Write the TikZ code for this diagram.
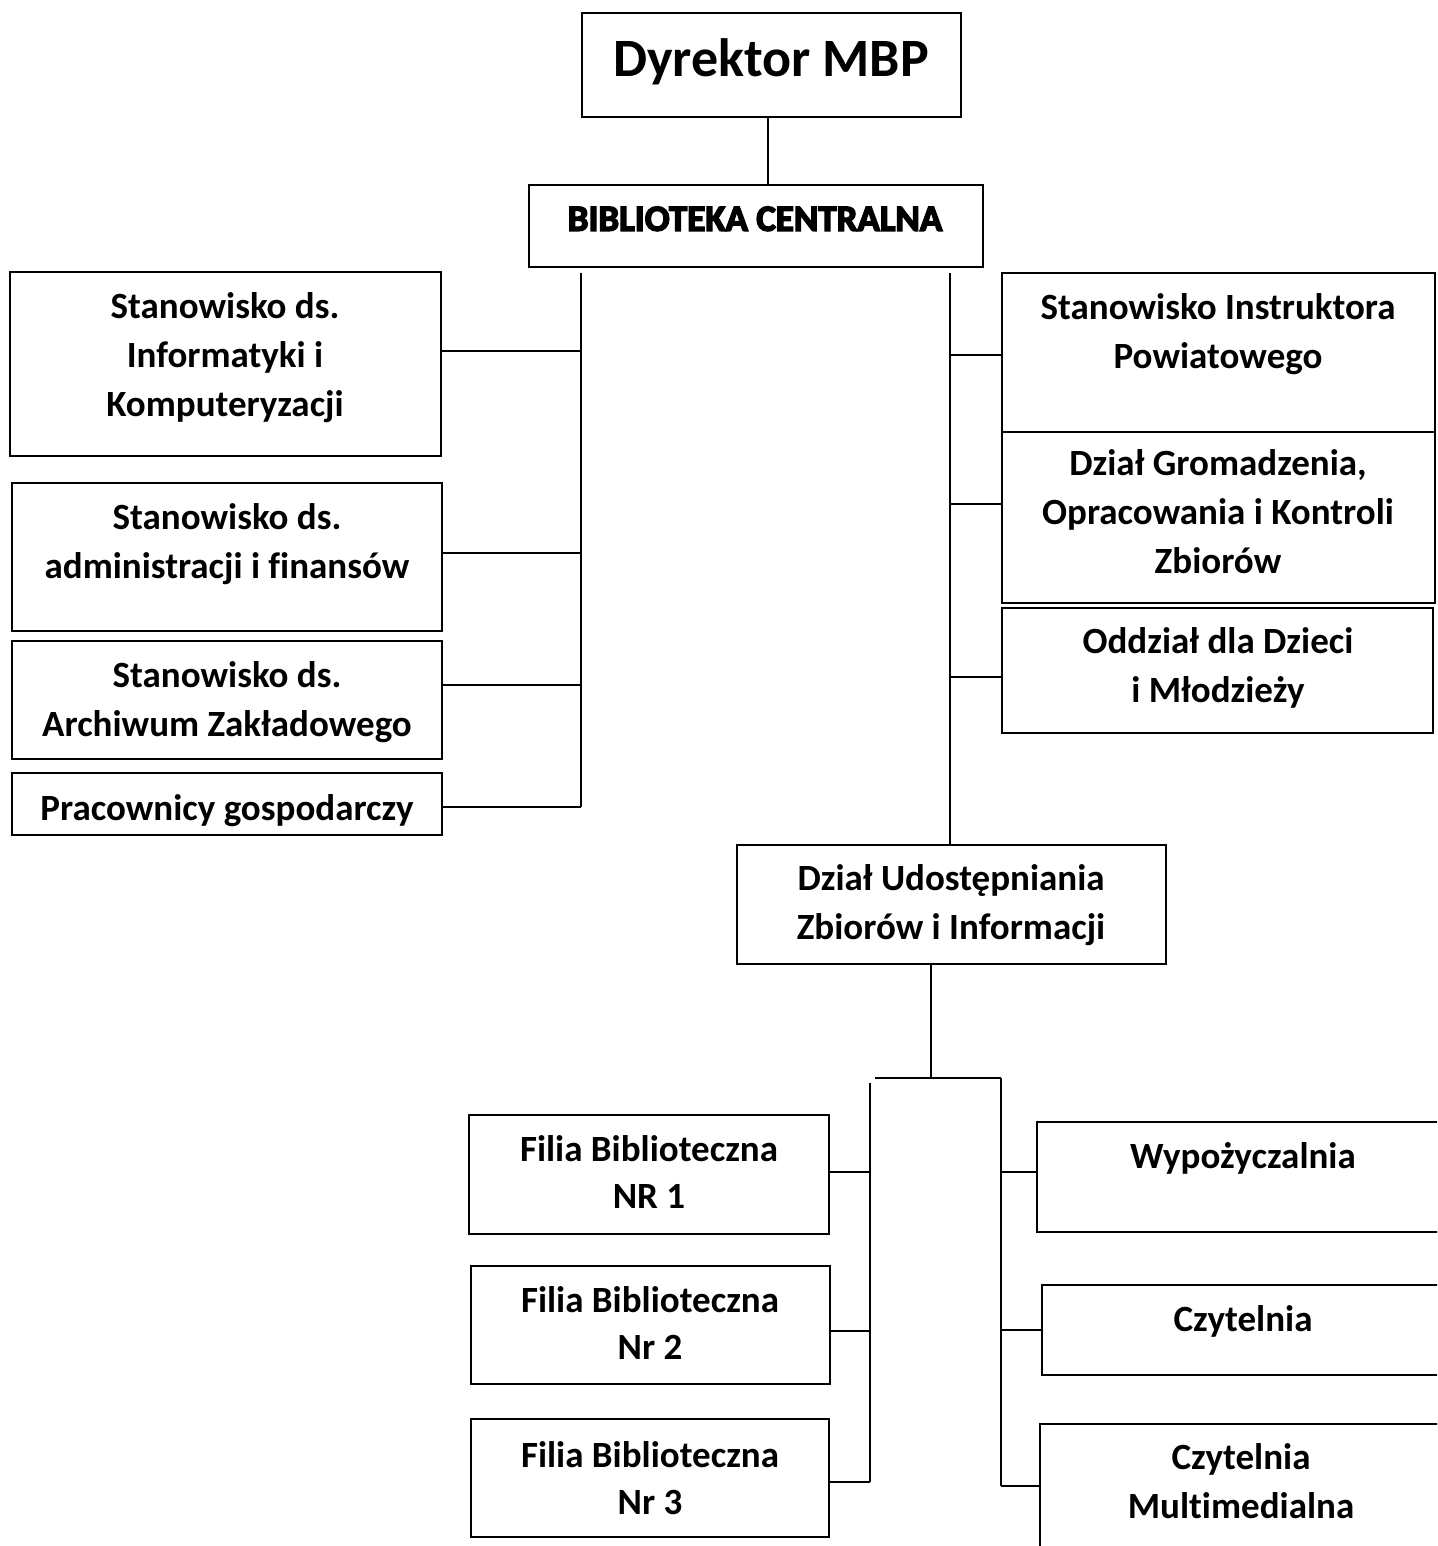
\documentclass[tikz,border=0pt]{standalone}
\usepackage{fontspec}
\setmainfont{Carlito}[Ligatures=CommonOff]
\newfontfamily\heavyfont{Carlito}[Ligatures=CommonOff, BoldFeatures={FakeBold=4}]
\usetikzlibrary{calc}
\tikzset{
  box/.style={draw=black, line width=1.8pt, rectangle, inner sep=0pt, outer sep=0pt},
  conn/.style={draw=black, line width=1.5pt},
  txt/.style={align=center, inner sep=0pt, font=\fontsize{37}{49}\selectfont\bfseries,
    execute at begin node=\strut, execute at end node=\strut},
}
\newcommand\orgbox[5]{\node[box, anchor=north west, minimum width={#4-#2}, minimum height={#5-#3}] (#1) at (#2,#3) {};}
\begin{document}
\begin{tikzpicture}[x=1pt,y=-1pt]
\useasboundingbox (0,0) rectangle (1437,1546);
\fill[white] (0,0) rectangle (1437,1546);
\begin{scope}
\clip (0,0) rectangle (1437,1546);
% boxes
\orgbox{dyr}{582}{13}{961}{117}
\orgbox{bc}{529}{185}{983}{267}
\orgbox{l1}{10}{272}{441}{456}
\orgbox{l2}{12}{483}{442}{631}
\orgbox{l3}{12}{641}{442}{759}
\orgbox{l4}{12}{773}{442}{835}
\orgbox{r1}{1002}{273}{1435}{432}
\orgbox{r2}{1002}{432}{1435}{603}
\orgbox{r3}{1002}{608}{1433}{733}
\orgbox{udo}{737}{845}{1166}{964}
\orgbox{f1}{469}{1115}{829}{1234}
\orgbox{f2}{471}{1266}{830}{1384}
\orgbox{f3}{471}{1419}{829}{1537}
\orgbox{wy}{1037}{1122}{1452}{1232}
\orgbox{cz}{1042}{1285}{1452}{1375}
\orgbox{cm}{1040}{1424}{1452}{1600}
% texts
\node[txt, font=\fontsize{54}{53}\selectfont\bfseries] (t-dyr) at (771,66) {Dyrektor MBP};
\node[txt, font=\fontsize{37}{49}\selectfont\heavyfont\bfseries] (t-bc) at (755,221) {BIBLIOTEKA CENTRALNA};
\node[txt] (t-l1) at (225,362) {Stanowisko ds.\\Informatyki i\\Komputeryzacji};
\node[txt] (t-l2) at (227,548) {Stanowisko ds.\\administracji i finansów};
\node[txt] (t-l3) at (227,706) {Stanowisko ds.\\Archiwum Zakładowego};
\node[txt] (t-l4) at (227,811) {Pracownicy gospodarczy};
\node[txt] (t-r1) at (1218,338) {Stanowisko Instruktora\\Powiatowego};
\node[txt] (t-r2) at (1218,519) {Dział Gromadzenia,\\Opracowania i Kontroli\\Zbiorów};
\node[txt] (t-r3) at (1218,672) {Oddział dla Dzieci\\i Młodzieży};
\node[txt] (t-udo) at (951,909) {Dział Udostępniania\\Zbiorów i Informacji};
\node[txt, font=\fontsize{37}{47}\selectfont\bfseries] (t-f1) at (649,1179) {Filia Biblioteczna\\NR 1};
\node[txt, font=\fontsize{37}{47}\selectfont\bfseries] (t-f2) at (650,1330) {Filia Biblioteczna\\Nr 2};
\node[txt, font=\fontsize{37}{47}\selectfont\bfseries] (t-f3) at (650,1485) {Filia Biblioteczna\\Nr 3};
\node[txt] (t-wy) at (1243,1159) {Wypożyczalnia};
\node[txt] (t-cz) at (1243,1322) {Czytelnia};
\node[txt] (t-cm) at (1241,1488) {Czytelnia\\Multimedialna};
% connectors
\draw[conn] (dyr.south -| 768,0) -- (bc.north -| 768,0);
\coordinate (lt) at (581,273);
\coordinate (lj1) at (581,351);
\coordinate (lj2) at (581,553);
\coordinate (lj3) at (581,685);
\coordinate (lj4) at (581,807);
\draw[conn] (lt) -- (lj4);
\draw[conn] (lj1) -- (lj1 -| l1.east);
\draw[conn] (lj2) -- (lj2 -| l2.east);
\draw[conn] (lj3) -- (lj3 -| l3.east);
\draw[conn] (lj4) -- (lj4 -| l4.east);
\coordinate (rt) at (950,273);
\coordinate (rj1) at (950,355);
\coordinate (rj2) at (950,504);
\coordinate (rj3) at (950,677);
\draw[conn] (rt) -- (udo.north -| rt);
\draw[conn] (rj1) -- (rj1 -| r1.west);
\draw[conn] (rj2) -- (rj2 -| r2.west);
\draw[conn] (rj3) -- (rj3 -| r3.west);
\coordinate (ub) at (931,1078);
\coordinate (hl) at (875,1078);
\coordinate (hr) at (1001,1078);
\draw[conn] (udo.south -| ub) -- (ub);
\draw[conn] (hl) -- (hr);
\coordinate (vl) at (870,1083);
\coordinate (fj1) at (870,1172);
\coordinate (fj2) at (870,1331);
\coordinate (fj3) at (870,1482);
\draw[conn] (vl) -- (fj3);
\draw[conn] (fj1) -- (fj1 -| f1.east);
\draw[conn] (fj2) -- (fj2 -| f2.east);
\draw[conn] (fj3) -- (fj3 -| f3.east);
\coordinate (wj1) at (1001,1172);
\coordinate (wj2) at (1001,1330);
\coordinate (wj3) at (1001,1486);
\draw[conn] (hr) -- (wj3);
\draw[conn] (wj1) -- (wj1 -| wy.west);
\draw[conn] (wj2) -- (wj2 -| cz.west);
\draw[conn] (wj3) -- (wj3 -| cm.west);
\end{scope}
\end{tikzpicture}
\end{document}
